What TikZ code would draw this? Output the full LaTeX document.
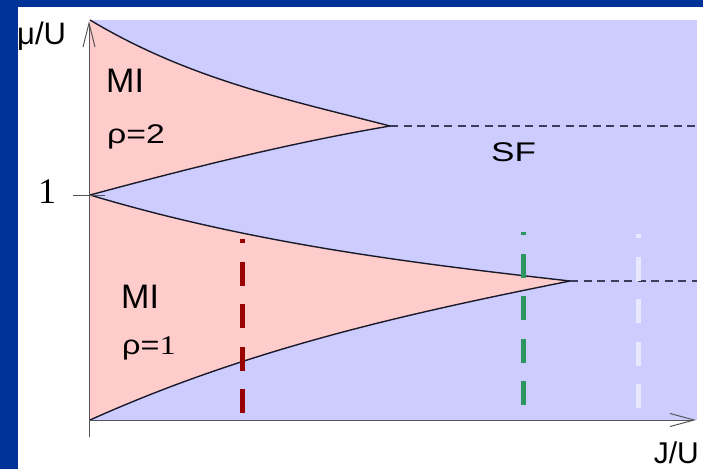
\documentclass[tikz,border=0pt]{standalone}
\usepackage{fontspec}
\setmainfont{Liberation Sans}
\newfontfamily\serifx{Liberation Serif}
\usetikzlibrary{arrows.meta}
\definecolor{frameblue}{HTML}{003399}
\definecolor{lav}{HTML}{CCCCFF}
\definecolor{pinkf}{HTML}{FFCCCC}
\definecolor{curvec}{HTML}{1A1A2A}
\definecolor{dashc}{HTML}{3C3C5C}
\definecolor{redd}{HTML}{990000}
\definecolor{greend}{HTML}{2E9660}
\definecolor{whited}{HTML}{E8E8FF}
\definecolor{axisc}{HTML}{555555}
\tikzset{
  bound/.style={draw=curvec, line width=1.4pt},
  lobe/.style={fill=pinkf},
  sfline/.style={draw=dashc, line width=1.3pt, dash pattern=on 8pt off 5.5pt},
  cut/.style={line width=5pt, line cap=butt, dash pattern=on 24pt off 18.5pt},
  axisline/.style={draw=axisc, line width=1pt},
  lbl/.style={inner sep=0pt, text=black}
}
\begin{document}
\begin{tikzpicture}[x=1pt,y=-1pt]
\useasboundingbox (0,0) rectangle (703,469);
% frame
\fill[frameblue] (0,0) rectangle (703,469);
\fill[white] (18,7) rectangle (703,469);
\fill[lav] (90,20) rectangle (697,420);
% key points
\coordinate (top) at (90,20);
\coordinate (tipA) at (390,126);
\coordinate (one) at (90,195);
\coordinate (tipB) at (570,281);
\coordinate (orig) at (90,420);
% lobes
\path[lobe] (top) .. controls (190,80) and (290,100) .. (tipA)
  .. controls (290,143) and (190,168) .. (one) -- cycle;
\path[lobe] (one) .. controls (250,243) and (410,263) .. (tipB)
  .. controls (410,313) and (250,348) .. (orig) -- cycle;
% boundaries
\draw[bound] (top) .. controls (190,80) and (290,100) .. (tipA);
\draw[bound] (one) .. controls (190,168) and (290,143) .. (tipA);
\draw[bound] (one) .. controls (250,243) and (410,263) .. (tipB);
\draw[bound] (orig) .. controls (250,348) and (410,313) .. (tipB);
% SF dashed continuations
\coordinate (endA) at (697,126);
\coordinate (endB) at (697,281);
\draw[sfline] (tipA) -- (endA);
\draw[sfline] (tipB) -- (endB);
% vertical cuts
\coordinate (r0) at (242,413); \coordinate (r1) at (242,239);
\coordinate (g0) at (523,405); \coordinate (g1) at (523,232);
\coordinate (w0) at (638,408); \coordinate (w1) at (638,234);
\draw[cut, redd] (r0) -- (r1);
\draw[cut, greend] (g0) -- (g1);
\draw[cut, whited] (w0) -- (w1);
% axes
\coordinate (ybot) at (89,437);
\coordinate (ytop) at (89,21);
\coordinate (xl) at (89,420);
\coordinate (xr) at (696,420);
\coordinate (tk0) at (73,195);
\coordinate (tk1) at (105,195);
\draw[axisline, -{Straight Barb[length=24pt,width=12pt]}] (ybot) -- (ytop);
\draw[axisline, -{Straight Barb[length=24pt,width=13pt]}] (xl) -- (xr);
\draw[axisline] (tk0) -- (tk1);
% labels
\node[lbl, anchor=base west] (mu) at (17,44) {\fontsize{31}{33}\selectfont μ/U};
\node[lbl, anchor=base east] (ju) at (699,463) {\fontsize{30}{32}\selectfont J/U};
\node[lbl, anchor=base] (onel) at (47,203) {\serifx\fontsize{36}{38}\selectfont 1};
\node[lbl, anchor=base west] (mi2) at (106,92) {\fontsize{34}{36}\selectfont MI};
\node[lbl, anchor=base west] (rho2) at (107,143) {\scalebox{1.25}[1]{\fontsize{27}{29}\selectfont ρ=2}};
\node[lbl, anchor=base west] (sf) at (491,161) {\scalebox{1.3}[1]{\fontsize{27}{29}\selectfont SF}};
\node[lbl, anchor=base west] (mi1) at (121,308) {\fontsize{34}{36}\selectfont MI};
\node[lbl, anchor=base west] (rho1) at (122,354) {\scalebox{1.2}[1]{\fontsize{27}{29}\selectfont ρ=\serifx 1}};
\end{tikzpicture}
\end{document}
